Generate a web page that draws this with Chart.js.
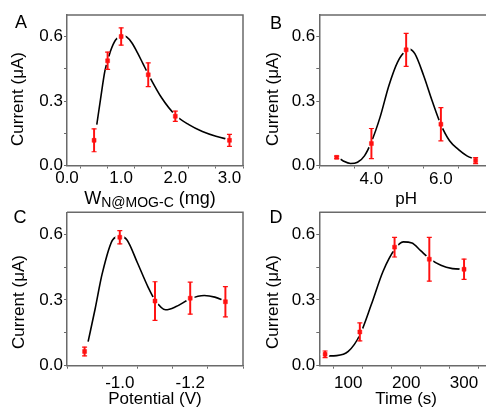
<!DOCTYPE html>
<html><head><meta charset="utf-8">
<script src="https://cdn.jsdelivr.net/npm/chart.js@4.4.1/dist/chart.umd.min.js"></script>
<style>
html,body{margin:0;padding:0;width:486px;height:409px;overflow:hidden;background:#fff;}
canvas{position:absolute;left:0;top:0;}
</style></head><body>
<canvas id="cA" width="486" height="409"></canvas>
<canvas id="cB" width="500" height="409"></canvas>
<canvas id="cC" width="486" height="409"></canvas>
<canvas id="cD" width="500" height="409"></canvas>
<script>
// ---------- Panel A : catalyst amount ----------
const aX   = [0.5, 0.75, 1.0, 1.5, 2.0, 3.0];
const aY   = [0.117, 0.487, 0.600, 0.422, 0.229, 0.117];
const aErr = [0.053, 0.040, 0.040, 0.055, 0.024, 0.028];
const aFitX = [0.55, 0.62, 0.70, 0.80, 0.90, 1.00, 1.05, 1.10, 1.20, 1.30, 1.40, 1.50, 1.75, 2.00, 2.25, 2.50, 2.75, 3.00];
const aFitY = [0.19, 0.31, 0.44, 0.53, 0.585, 0.600, 0.602, 0.598, 0.570, 0.525, 0.475, 0.425, 0.314, 0.235, 0.190, 0.158, 0.136, 0.120];
const aXTickVals   = [0, 0.5, 1, 1.5, 2, 2.5, 3];
const aXTickLabels = ['0.0', '', '1.0', '', '2.0', '', '3.0'];

// ---------- Panel B : pH ----------
const bX   = [3, 4, 5, 6, 7];
const bY   = [0.038, 0.102, 0.538, 0.192, 0.023];
const bErr = [0.006, 0.070, 0.077, 0.077, 0.014];
const bFitX = [3.05, 3.2, 3.4, 3.6, 3.8, 4.0, 4.25, 4.5, 4.75, 5.0, 5.1, 5.25, 5.5, 5.75, 6.0, 6.25, 6.5, 6.75, 7.0];
const bFitY = [0.036, 0.020, 0.009, 0.015, 0.045, 0.110, 0.225, 0.370, 0.480, 0.535, 0.540, 0.520, 0.420, 0.300, 0.190, 0.115, 0.075, 0.045, 0.028];
const bXTickVals   = [3, 4, 5, 6, 7];
const bXTickLabels = ['', '4.0', '', '6.0', ''];

// ---------- Panel C : potential ----------
const cX   = [-0.9, -1.0, -1.1, -1.2, -1.3];
const cY   = [0.065, 0.586, 0.295, 0.308, 0.292];
const cErr = [0.020, 0.030, 0.088, 0.073, 0.069];
const cFitX = [-0.91, -0.93, -0.95, -0.98, -1.00, -1.02, -1.05, -1.08, -1.10, -1.13, -1.16, -1.20, -1.24, -1.27, -1.30];
const cFitY = [0.110, 0.260, 0.420, 0.575, 0.590, 0.575, 0.470, 0.360, 0.300, 0.255, 0.270, 0.305, 0.320, 0.313, 0.295];
const cXTickVals   = [-0.9, -1.0, -1.1, -1.2, -1.3];
const cXTickLabels = ['', '-1.0', '', '-1.2', ''];

// ---------- Panel D : time ----------
const dX   = [60, 120, 180, 240, 300];
const dY   = [0.052, 0.154, 0.541, 0.486, 0.440];
const dErr = [0.015, 0.041, 0.045, 0.100, 0.046];
const dFitX = [65, 80, 100, 120, 140, 160, 180, 195, 210, 225, 240, 260, 280, 300];
const dFitY = [0.045, 0.046, 0.065, 0.140, 0.280, 0.430, 0.530, 0.565, 0.560, 0.525, 0.490, 0.458, 0.443, 0.440];
const dXTickVals   = [100, 150, 200, 250, 300];
const dXTickLabels = ['100', '', '200', '', '300'];

// ---------- shared y axis ----------
const yTickVals   = [0, 0.15, 0.3, 0.45, 0.6];
const yTickLabels = ['0.0', '', '0.3', '', '0.6'];
const yTitle = 'Current (μA)';

const FONT = "'Liberation Sans', Arial, Helvetica, sans-serif";
const AX = '#6a6a6a';
const RED = '#ff1010';
Chart.defaults.font.family = FONT;
Chart.defaults.color = '#000';

function labelFor(v, vals, labels) {
  for (let i = 0; i < vals.length; i++) if (Math.abs(vals[i] - v) < 1e-9) return labels[i];
  return '';
}

function xAxis(o) {
  return {
    type: 'linear', position: 'bottom', min: o.min, max: o.max, reverse: !!o.reverse, offset: false,
    border: { display: true, color: AX, width: 1.5 },
    grid: { display: true, drawOnChartArea: false, drawTicks: true, tickLength: 3, tickColor: AX, tickWidth: 1 },
    ticks: { autoSkip: false, maxRotation: 0, minRotation: 0, padding: o.pad, font: { size: 17 }, color: '#000',
      callback: (v) => labelFor(v, o.vals, o.labels) },
    afterBuildTicks: (s) => { s.ticks = o.vals.map(v => ({ value: v })); },
    afterFit: (s) => { s.height = 42; },
    title: o.title ? { display: true, text: o.title, font: { size: 17 }, color: '#000', padding: { top: 0, bottom: -2 } } : { display: false }
  };
}
function yAxis() {
  return {
    type: 'linear', position: 'left', min: 0, max: 0.7,
    border: { display: true, color: AX, width: 1.5 },
    grid: { display: true, drawOnChartArea: false, drawTicks: true, tickLength: 3, tickColor: AX, tickWidth: 1 },
    ticks: { autoSkip: false, padding: 1, font: { size: 17 }, color: '#000',
      callback: (v) => labelFor(v, yTickVals, yTickLabels) },
    afterBuildTicks: (s) => { s.ticks = yTickVals.map(v => ({ value: v })); },
    afterFit: (s) => { s.width = 67; },
    title: { display: false }
  };
}

const framePlugin = {
  id: 'frame',
  afterDraw(chart) {
    const { ctx, chartArea: a } = chart;
    ctx.save();
    ctx.strokeStyle = AX; ctx.lineWidth = 1.5;
    ctx.beginPath();
    ctx.moveTo(a.left, a.top); ctx.lineTo(a.right, a.top); ctx.lineTo(a.right, a.bottom);
    ctx.stroke();
    ctx.restore();
  }
};

function textPlugin(items) {
  return {
    id: 'panelText',
    afterDraw(chart) {
      const ctx = chart.ctx;
      items.forEach(it => {
        ctx.save();
        ctx.fillStyle = '#000';
        ctx.translate(it.x, it.y);
        if (it.rotate) ctx.rotate(it.rotate);
        ctx.textBaseline = it.baseline || 'middle';
        ctx.textAlign = 'left';
        const runs = it.runs || [{ text: it.text, size: it.size, dy: 0 }];
        const widths = runs.map(r => { ctx.font = r.size + 'px ' + FONT; return ctx.measureText(r.text).width; });
        const total = widths.reduce((s, w) => s + w, 0);
        let cx = -total / 2;
        runs.forEach((r, i) => { ctx.font = r.size + 'px ' + FONT; ctx.fillText(r.text, cx, r.dy || 0); cx += widths[i]; });
        ctx.restore();
      });
    }
  };
}

function makePanel(id, P) {
  const fit = P.fitX.map((x, i) => ({ x, y: P.fitY[i] }));
  const pts = P.x.map((x, i) => ({ x, y: P.y[i] }));
  const bars = P.x.map((x, i) => ({ x, y: [P.y[i] - P.err[i], P.y[i] + P.err[i]] }));
  const caps = [];
  P.x.forEach((x, i) => { caps.push({ x, y: P.y[i] + P.err[i] }); caps.push({ x, y: P.y[i] - P.err[i] }); });
  new Chart(document.getElementById(id), {
    type: 'scatter',
    data: {
      datasets: [
        { type: 'line', data: fit, borderColor: '#000', borderWidth: 1.6, pointRadius: 0, fill: false,
          cubicInterpolationMode: 'monotone', order: 5 },
        { type: 'scatter', data: pts, pointStyle: 'circle', pointRadius: 4.5, backgroundColor: '#fff', borderWidth: 0, order: 4 },
        { type: 'bar', data: bars, backgroundColor: RED, borderWidth: 0, barThickness: 1.3, order: 3 },
        { type: 'scatter', data: caps, pointStyle: 'line', pointRadius: 2.5, borderColor: RED, borderWidth: 1.2, order: 2 },
        { type: 'scatter', data: pts, pointStyle: 'rect', pointRadius: 2.8, backgroundColor: RED, borderColor: RED, borderWidth: 0.5, order: 1 }
      ]
    },
    options: {
      responsive: false, animation: false, events: [],
      layout: { padding: P.padding },
      plugins: { legend: { display: false }, tooltip: { enabled: false } },
      scales: { x: P.xAxis, y: yAxis() }
    },
    plugins: [framePlugin, textPlugin(P.texts)]
  });
}

const R90 = -Math.PI / 2;

makePanel('cA', {
  x: aX, y: aY, err: aErr, fitX: aFitX, fitY: aFitY,
  padding: { left: 0, top: 15, right: 243, bottom: 201.5 },
  xAxis: xAxis({ min: 0, max: 3.25, vals: aXTickVals, labels: aXTickLabels, pad: 0 }),
  texts: [
    { text: 'A', size: 18, x: 21, y: 23 },
    { text: yTitle, size: 17, x: 18, y: 99, rotate: R90 },
    { runs: [{ text: 'W', size: 18, dy: 0 }, { text: 'N@MOG-C', size: 14, dy: 3 }, { text: ' (mg)', size: 18, dy: 0 }],
      x: 150, y: 204, baseline: 'alphabetic' }
  ]
});

makePanel('cB', {
  x: bX, y: bY, err: bErr, fitX: bFitX, fitY: bFitY,
  padding: { left: 252.3, top: 15, right: 7, bottom: 201.5 },
  xAxis: xAxis({ min: 2.5, max: 7.5, vals: bXTickVals, labels: bXTickLabels, pad: 1, title: 'pH' }),
  texts: [
    { text: 'B', size: 18, x: 276, y: 24.5 },
    { text: yTitle, size: 17, x: 273, y: 99, rotate: R90 }
  ]
});

makePanel('cC', {
  x: cX, y: cY, err: cErr, fitX: cFitX, fitY: cFitY,
  padding: { left: 0, top: 212.3, right: 243, bottom: 1.3 },
  xAxis: xAxis({ min: -1.35, max: -0.85, reverse: true, vals: cXTickVals, labels: cXTickLabels, pad: 4, title: 'Potential (V)' }),
  texts: [
    { text: 'C', size: 18, x: 20, y: 218 },
    { text: yTitle, size: 17, x: 19, y: 302, rotate: R90 }
  ]
});

makePanel('cD', {
  x: dX, y: dY, err: dErr, fitX: dFitX, fitY: dFitY,
  padding: { left: 252.3, top: 212.3, right: 7, bottom: 1.3 },
  xAxis: xAxis({ min: 50, max: 350, vals: dXTickVals, labels: dXTickLabels, pad: 4, title: 'Time (s)' }),
  texts: [
    { text: 'D', size: 18, x: 276, y: 218 },
    { text: yTitle, size: 17, x: 273, y: 302, rotate: R90 }
  ]
});
</script>
</body></html>
